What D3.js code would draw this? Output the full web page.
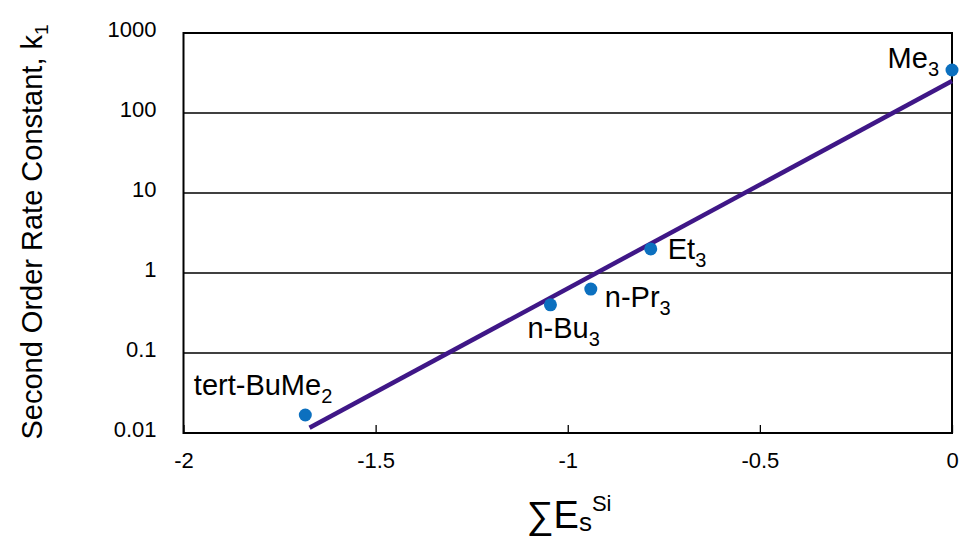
<!DOCTYPE html>
<html>

<head>
    <script src="https://cdnjs.cloudflare.com/ajax/libs/d3/7.8.5/d3.min.js"></script>
    <style>
        body {
            margin: 0;
            background: #fff;
        }

        .tick-label {
            font-family: 'Liberation Sans', Arial, sans-serif;
            font-size: 22px;
            fill: #000;
        }

        .annot {
            font-family: 'Liberation Sans', Arial, sans-serif;
            font-size: 29px;
            fill: #000;
        }
    </style>
</head>

<body>
    <script>
        // data
        const compounds = ['Me3', 'Et3', 'n-Pr3', 'n-Bu3', 'tert-BuMe2']
        const sumEs = [0, -0.784, -0.94, -1.045, -1.683]
        const rateK = [345, 2.0, 0.63, 0.40, 0.0168]

        // fitted straight line (log k vs sum Es), two ends
        const fitX = [-1.672, 0]
        const fitK = [0.0116, 251]

        const xTicks = [-2, -1.5, -1, -0.5, 0]
        const yTicks = [0.01, 0.1, 1, 10, 100, 1000]

        const w = 966
        const h = 537
        const m = { left: 183.5, top: 33, right: 14, bottom: 104 }

        const svg = d3.select('body')
            .append('svg')
            .attr('width', w)
            .attr('height', h)

        const x = d3.scaleLinear().domain([-2, 0]).range([m.left, w - m.right])
        const y = d3.scaleLog().domain([0.01, 1000]).range([h - m.bottom, m.top])

        // plain hyphen minus like the original
        const fmt = d => String(d)

        // horizontal grid
        svg.append('g')
            .selectAll('line')
            .data(yTicks)
            .enter()
            .append('line')
            .attr('x1', x(-2))
            .attr('x2', x(0))
            .attr('y1', d => y(d))
            .attr('y2', d => y(d))
            .attr('stroke', '#000')
            .attr('stroke-width', 1.3)

        // bottom axis with inward ticks
        const xAxis = svg.append('g')
            .attr('transform', `translate(0,${y(0.01)})`)
            .call(d3.axisBottom(x).tickValues(xTicks).tickSize(-8).tickPadding(0).tickFormat(fmt))
        xAxis.select('.domain').remove()
        xAxis.selectAll('.tick line').attr('stroke', '#000').attr('stroke-width', 1.3)
        xAxis.selectAll('.tick text')
            .attr('class', 'tick-label')
            .attr('y', 35)
            .attr('dy', 0)

        // y labels
        svg.append('g')
            .selectAll('text')
            .data(yTicks)
            .enter()
            .append('text')
            .attr('class', 'tick-label')
            .attr('x', m.left - 27)
            .attr('y', d => y(d) + 4)
            .attr('text-anchor', 'end')
            .text(fmt)

        // frame
        svg.append('rect')
            .attr('x', x(-2))
            .attr('y', y(1000))
            .attr('width', x(0) - x(-2))
            .attr('height', y(0.01) - y(1000))
            .attr('fill', 'none')
            .attr('stroke', '#000')
            .attr('stroke-width', 2)

        // fit line
        const fit = fitX.map((d, i) => [d, fitK[i]])
        svg.append('path')
            .datum(fit)
            .attr('d', d3.line().x(d => x(d[0])).y(d => y(d[1])))
            .attr('stroke', '#3f1787')
            .attr('stroke-width', 4.5)
            .attr('fill', 'none')

        // points
        const pts = compounds.map((c, i) => ({ name: c, ex: sumEs[i], k: rateK[i] }))
        svg.append('g')
            .selectAll('circle')
            .data(pts)
            .enter()
            .append('circle')
            .attr('cx', d => x(d.ex))
            .attr('cy', d => y(d.k))
            .attr('r', 6.5)
            .attr('fill', '#0c70bf')

        // label placement relative to each point (px)
        const labelPos = {
            'Me3': { dx: -13, dy: -2, anchor: 'end' },
            'Et3': { dx: 17, dy: 10, anchor: 'start' },
            'n-Pr3': { dx: 14, dy: 18, anchor: 'start' },
            'n-Bu3': { dx: -23, dy: 33, anchor: 'start' },
            'tert-BuMe2': { dx: 27, dy: -20, anchor: 'end' }
        }

        const labels = svg.append('g')
            .selectAll('text')
            .data(pts)
            .enter()
            .append('text')
            .attr('class', 'annot')
            .attr('x', d => x(d.ex) + labelPos[d.name].dx)
            .attr('y', d => y(d.k) + labelPos[d.name].dy)
            .attr('text-anchor', d => labelPos[d.name].anchor)
        labels.append('tspan').text(d => d.name.slice(0, -1))
        labels.append('tspan')
            .attr('dy', 8)
            .style('font-size', '20px')
            .text(d => d.name.slice(-1))

        // y title
        const yt = svg.append('text')
            .attr('class', 'annot')
            .attr('transform', 'translate(42,232) rotate(-90)')
            .attr('text-anchor', 'middle')
        yt.append('tspan').text('Second Order Rate Constant, k')
        yt.append('tspan').attr('dy', 6).style('font-size', '19px').text('1')

        // x title
        const xt = svg.append('text')
            .attr('class', 'annot')
            .attr('x', 569)
            .attr('y', 528)
            .attr('text-anchor', 'middle')
        xt.append('tspan').style('font-size', '38px').text('∑E')
        xt.append('tspan').attr('dy', 3).style('font-size', '26px').text('s')
        xt.append('tspan').attr('dy', -20).style('font-size', '22px').text('Si')
    </script>
</body>

</html>
